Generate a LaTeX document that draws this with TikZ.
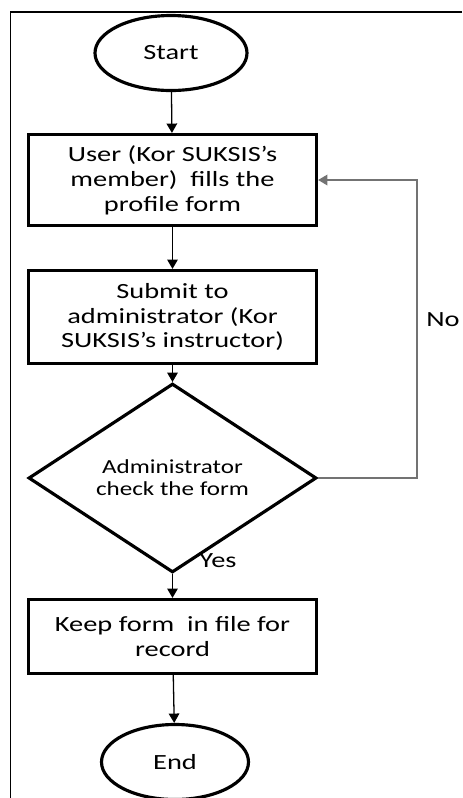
\documentclass[tikz,border=0pt]{standalone}
\usepackage{fontspec}
\setmainfont[FakeStretch=1.31]{Carlito}
\newfontfamily\checkfont[FakeStretch=1.26]{Carlito}
\usetikzlibrary{shapes.geometric,arrows.meta}

\begin{document}
\begin{tikzpicture}[x=0.03cm,y=-0.03cm,
    every node/.style={font=\fontsize{18.5}{21.3}\selectfont,align=center},
    terminal/.style={draw,ellipse,line width=2.7pt,inner sep=0pt,minimum height=2.25cm},
    stepbox/.style={draw,rectangle,line width=2.7pt,inner sep=0pt,minimum width=8.64cm},
    decision/.style={draw,diamond,line width=2.7pt,inner sep=0pt,minimum width=8.64cm,minimum height=4.08cm,
        font=\checkfont\fontsize{17}{18.8}\selectfont},
    flow/.style={-{Triangle[length=8pt,width=9pt]},line width=1.1pt},
    back/.style={-{Triangle[length=8pt,width=9pt]},line width=1.5pt,black!55}]
                        \useasboundingbox (0,0) rectangle (462,798);
                        % frame
                        \draw [line width=1.2pt] (462,12)--(10.5,12)--(10.5,798);
                        % steps
                        \node [terminal,minimum width=4.56cm] (start) at (171,53) {Start};
                        \node [stepbox,minimum height=2.73cm] (fill) at (172.5,180)
                        {User (Kor SUKSIS’s\\ member)\ \ fills the\\ profile form};
                        \node [stepbox,minimum height=2.79cm] (submit) at (172.5,317)
                        {Submit to\\ administrator (Kor\\ SUKSIS’s instructor)};
                        \node [decision] (check) at (172.5,478)
                        {Administrator\\ check the form};
                        \node [stepbox,minimum height=2.22cm] (keep) at (172.5,636.5)
                        {Keep form\ \ in file for\\ record};
                        \node [terminal,minimum width=4.41cm] (end) at (175,762) {End};
                        \coordinate (turn) at (417,478);
                        % arrows
                        \draw [flow] (start)--(fill);
                        \draw [flow] (fill)--(submit);
                        \draw [flow] (submit)--(check);
                        \draw [flow] (check)--(keep);
                        \draw [flow] (keep)--(end);
                        \draw [back] (check.east)--(turn)|-(fill.east);
                        \node at (218,561) {Yes};
                        \node [anchor=east,inner xsep=1pt] at (461,320) {No};
\end{tikzpicture}
\end{document}
